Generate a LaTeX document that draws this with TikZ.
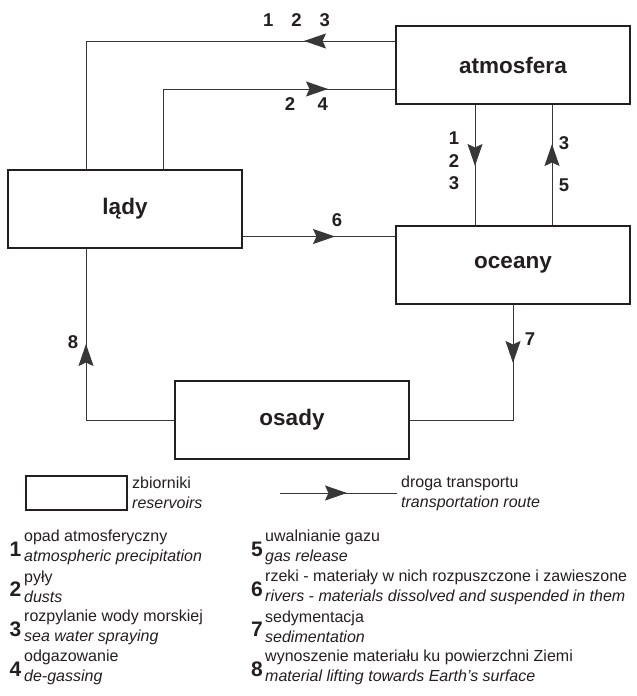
\documentclass[tikz,border=0pt]{standalone}
\usepackage{fontspec}
\setmainfont{Liberation Sans}
\usetikzlibrary{arrows.meta,decorations.markings}
\definecolor{boxcol}{RGB}{35,31,32}
\definecolor{linecol}{RGB}{55,55,55}

\begin{document}
\begin{tikzpicture}[x=1pt,y=-1pt,
    reservoir/.style={draw=boxcol,line width=2pt,minimum width=234pt,minimum height=78pt,inner sep=0pt,text=boxcol,font=\fontsize{22.5}{27}\selectfont\bfseries},
    route/.style={draw=linecol,line width=1pt},
    tipat/.style={postaction={decorate},decoration={markings,mark=at position #1 with {\arrow[linecol]{Stealth[length=22pt,width=15pt,inset=3.5pt]}}}},
    numlbl/.style={inner sep=0pt,text=boxcol,font=\fontsize{18.5}{22.5}\selectfont\bfseries},
    legnum/.style={inner sep=0pt,text=boxcol,font=\fontsize{21}{21}\selectfont\bfseries},
    legtxt/.style={inner sep=0pt,anchor=west,align=left,text=boxcol,font=\fontsize{16}{20}\selectfont}]
    \useasboundingbox (0,0) rectangle (637,696);
    % zbiorniki
    \node[reservoir] (atm) at (513,65) {atmosfera};
    \node[reservoir] (lady) at (125,208.5) {lądy};
    \node[reservoir] (ocean) at (513,264.5) {oceany};
    \node[reservoir] (osady) at (292,420) {osady};
    % drogi transportu
    \draw[route,tipat=91pt] ([yshift=24pt]atm.west) -| ([xshift=-39pt]lady.north);
    \draw[route,tipat=244.5pt] ([xshift=38pt]lady.north) |- ([yshift=-24pt]atm.west);
    \draw[route,tipat=61pt] ([xshift=-38pt]atm.south) -- ([xshift=-38pt]ocean.north);
    \draw[route,tipat=80.5pt] ([xshift=39pt]ocean.north) -- ([xshift=39pt]atm.south);
    \draw[route,tipat=92pt] ([yshift=-28pt]lady.east) -- ([yshift=28pt]ocean.west);
    \draw[route,tipat=58.5pt] (ocean.south) |- (osady.east);
    \draw[route,tipat=164pt] (osady.west) -| ([xshift=-39pt]lady.south);
    % numery
    \node[numlbl] (n123) at (296.5,20) {1\hspace{18pt}2\hspace{18pt}3};
    \node[numlbl] (n24) at (306.5,104) {2\hspace{22.5pt}4};
    \node[numlbl,align=center] (n123b) at (454,161) {1\\2\\3};
    \node[numlbl] (n3) at (564,143) {3};
    \node[numlbl] (n5) at (564,185) {5};
    \node[numlbl] (n6) at (337,220) {6};
    \node[numlbl] (n7) at (530,339) {7};
    \node[numlbl] (n8) at (73,342) {8};
    % legenda
    \node[draw=boxcol,line width=2pt,minimum width=101pt,minimum height=34pt,inner sep=0pt] (legbox) at (76.5,493) {};
    \node[legtxt] (legboxtxt) at (132,493) {zbiorniki\\\textit{reservoirs}};
    \coordinate (legA) at (280,493);
    \coordinate (legB) at (397,493);
    \draw[route,tipat=67pt] (legA) -- (legB);
    \node[legtxt] (legarrtxt) at (401,493) {droga transportu\\\textit{transportation route}};
    \foreach \n/\yy/\pl/\en in {1/547/opad atmosferyczny/atmospheric precipitation,
        2/587/pyły/dusts,
        3/627/rozpylanie wody morskiej/sea water spraying,
        4/667/odgazowanie/de-gassing}{
      \node[legnum] (d\n) at (15.5,\yy+2) {\n};
      \node[legtxt] (t\n) at (24,\yy) {\pl\\\textit{\en}};
    }
    \foreach \n/\yy/\pl/\en in {5/547/uwalnianie gazu/gas release,
        6/587/rzeki - materiały w nich rozpuszczone i zawieszone/rivers - materials dissolved and suspended in them,
        7/627/sedymentacja/sedimentation,
        8/667/wynoszenie materiału ku powierzchni Ziemi/material lifting towards Earth’s surface}{
      \node[legnum] (d\n) at (257,\yy+2) {\n};
      \node[legtxt] (t\n) at (265,\yy) {\pl\\\textit{\en}};
    }
\end{tikzpicture}
\end{document}
